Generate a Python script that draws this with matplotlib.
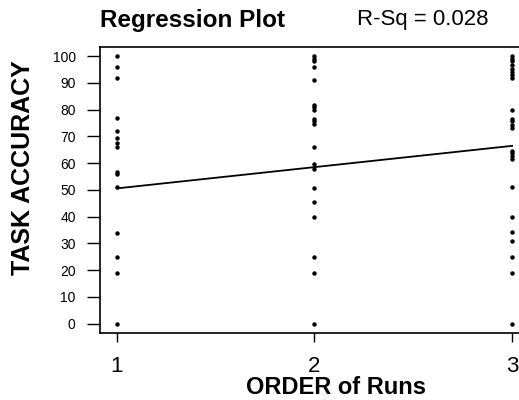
import numpy as np
import matplotlib.pyplot as plt

plt.rcParams['font.family'] = ['Liberation Sans', 'DejaVu Sans']

# task accuracy values, one list per run order
run1 = [100, 95.8, 91.9, 76.7, 72, 69.3, 67.7, 66.2, 56.8, 55.8, 50.9,
        33.9, 24.9, 18.9, 0]
run2 = [100, 99, 98, 95.8, 91, 81.8, 80.8, 79.8, 76.6, 75.6, 74.6, 66.1,
        59.6, 57.9, 50.8, 45.6, 39.9, 24.9, 18.9, 0]
run3 = [100, 99, 98, 96.5, 95.3, 94, 92.8, 91.8, 79.8, 76.6, 75.6, 74.3,
        73.1, 64.6, 63.6, 62.6, 61.6, 50.9, 39.9, 34.2, 30.9, 24.9, 18.9, 0]
runs = [1, 2, 3]

# fitted line as printed (many overlapping points are hidden in the plot)
fit_intercept = 42.6
fit_slope = 7.95
r_sq = 0.028

fig = plt.figure(figsize=(5.19, 4.0), dpi=100)
ax = fig.add_axes([100/519, 67/400, 1 - 100/519 + 0.002, 286/400])

for r, vals in zip(runs, [run1, run2, run3]):
    ax.plot([r]*len(vals), vals, 'o', color='black', ms=3.2, mew=0)

xs = np.array([runs[0], runs[-1]])
ax.plot(xs, fit_intercept + fit_slope*xs, color='black', lw=1.3)

ax.set_xlim(0.915, 3.04)
ax.set_ylim(-3.5, 103.4)
ax.spines['right'].set_visible(False)
for s in ax.spines.values():
    s.set_linewidth(1.2)

ax.set_xticks(runs)
ax.set_xticklabels([str(r) for r in runs])
ax.set_yticks(range(0, 101, 10))
ax.tick_params(axis='y', direction='out', length=9.5, width=1, pad=8,
               labelsize=10, colors='black')
ax.tick_params(axis='x', direction='out', length=6.5, width=1, pad=10,
               labelsize=16)

fig.text(0.0445, 1 - 168/400, 'TASK ACCURACY', rotation=90, ha='center',
         va='center', fontsize=18, fontweight='bold')
fig.text(336/519, 1 - 388/400, 'ORDER of Runs', ha='center', va='center',
         fontsize=17, fontweight='bold')
fig.text(100/519, 1 - 20/400, 'Regression Plot', ha='left', va='center',
         fontsize=17.5, fontweight='bold')
fig.text(357/519, 1 - 20/400, 'R-Sq = %.3f' % r_sq, ha='left', va='center',
         fontsize=16)

plt.savefig('out.png')
